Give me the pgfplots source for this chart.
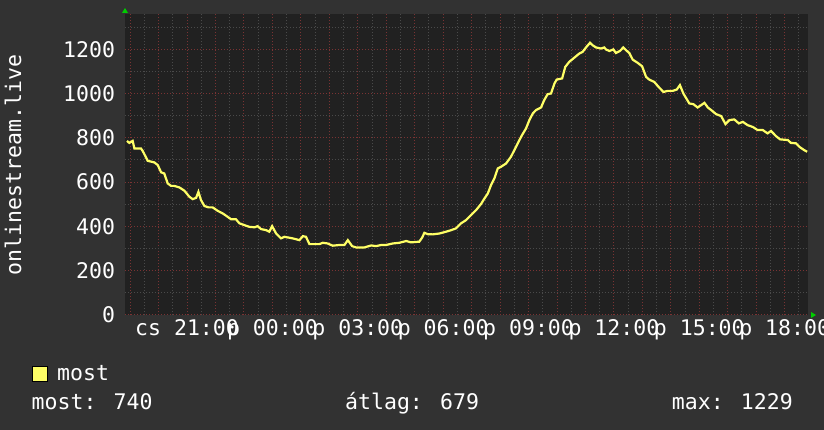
\documentclass[border=0pt]{standalone}
\usepackage{fontspec}
\setmainfont{DejaVu Sans Mono}
\usepackage{pgfplots}
\pgfplotsset{compat=1.18}
\definecolor{bg}{HTML}{323232}
\definecolor{canvas}{HTML}{212121}
\definecolor{mgrid}{HTML}{7A3333}
\definecolor{ngrid}{HTML}{4A4A4A}
\definecolor{curve}{HTML}{FFFF66}
\definecolor{arrowgreen}{HTML}{00CC00}
\newcommand{\rfont}{\fontsize{21.6}{26}\selectfont}
\pgfplotstableread{
h v
18.89 786
18.97 777
19.09 786
19.15 752
19.38 752
19.44 741
19.62 696
19.85 689
19.97 677
20.09 644
20.20 639
20.32 594
20.44 583
20.55 583
20.73 576
20.91 561
21.08 534
21.20 523
21.32 529
21.40 556
21.49 519
21.61 492
21.75 486
21.90 486
22.08 470
22.25 459
22.43 443
22.55 432
22.72 432
22.84 414
23.01 406
23.19 398
23.37 396
23.48 401
23.60 388
23.78 383
23.89 376
23.99 401
24.13 368
24.30 346
24.42 353
24.59 349
24.71 346
24.95 338
25.07 356
25.18 353
25.30 320
25.47 320
25.65 320
25.77 326
25.94 323
26.12 313
26.35 316
26.53 316
26.65 338
26.80 311
26.94 305
27.23 305
27.47 314
27.64 311
27.82 316
27.99 316
28.23 323
28.46 326
28.70 334
28.87 328
29.16 331
29.26 349
29.34 371
29.46 365
29.63 364
29.87 368
30.10 376
30.28 383
30.45 391
30.63 414
30.80 428
30.98 451
31.16 474
31.33 501
31.45 526
31.57 549
31.68 586
31.80 617
31.92 662
32.03 669
32.21 684
32.38 714
32.50 744
32.62 775
32.77 812
32.91 842
33.03 880
33.15 910
33.26 925
33.44 937
33.55 970
33.67 997
33.79 1000
33.91 1045
33.99 1063
34.18 1068
34.29 1120
34.43 1143
34.61 1162
34.78 1180
34.90 1188
35.02 1208
35.16 1229
35.25 1218
35.37 1208
35.55 1203
35.66 1208
35.72 1199
35.84 1192
35.98 1199
36.07 1183
36.21 1192
36.33 1208
36.43 1195
36.54 1183
36.66 1153
36.84 1138
36.99 1123
37.13 1075
37.24 1063
37.42 1052
37.59 1027
37.74 1007
37.89 1012
38.07 1012
38.21 1018
38.32 1038
38.44 1000
38.65 955
38.79 952
38.94 937
39.06 947
39.18 958
39.30 937
39.45 922
39.59 907
39.77 898
39.92 862
40.06 880
40.23 883
40.39 865
40.53 872
40.70 857
40.88 849
41.05 835
41.23 835
41.40 820
41.52 831
41.70 807
41.84 793
42.11 790
42.22 777
42.40 775
42.52 759
42.69 744
42.79 737
}\datatable
\begin{document}
\begin{tikzpicture}
\fill[bg] (0bp,0bp) rectangle (824bp,430bp);
\begin{axis}[
  at={(125bp,115bp)}, anchor=south west,
  scale only axis, width=683bp, height=301bp,
  xmin=18.82, xmax=42.82, ymin=0, ymax=1359,
  axis background/.style={fill=canvas},
  axis line style={draw=none},
  tick style={draw=none},
  xtick={19,20,...,42},
  xticklabels={,,cs 21:00,,,p 00:00,,,p 03:00,,,p 06:00,,,p 09:00,,,p 12:00,,,p 15:00,,,p 18:00},
  minor xtick={19.5,20.5,...,42.5},
  ytick={0,200,...,1200},
  minor ytick={100,300,...,1300},
  grid=both,
  major grid style={mgrid, dash pattern=on 1bp off 2bp, line width=1bp},
  minor grid style={ngrid, dash pattern=on 1bp off 2bp, line width=1bp},
  tick label style={font=\rfont, text=white, inner sep=0pt},
  /pgf/number format/assume math mode=true,
  /pgf/number format/1000 sep={},
  yticklabel style={xshift=-9.8bp},
  xticklabel style={yshift=-4.3bp},
  clip=true,
]
\addplot[curve, line width=2.2bp, mark=none, sharp plot] table[x=h, y=v] {\datatable};
\end{axis}
% axis arrow heads
\fill[arrowgreen] (122bp,417bp) -- (128bp,417bp) -- (125bp,422bp) -- cycle;
\fill[arrowgreen] (811bp,112bp) -- (811bp,118bp) -- (816bp,115bp) -- cycle;
% y label
\node[rotate=90, anchor=base, inner sep=0pt, text=white, font=\rfont] at (21bp,265bp) {onlinestream.live};
% legend
\filldraw[fill=curve, draw=black, line width=1bp] (32bp,48.5bp) rectangle (47bp,63.5bp);
\node[anchor=base west, inner sep=0pt, text=white, font=\rfont] at (57bp,49.5bp) {most};
\node[anchor=base west, inner sep=0pt, text=white, font=\rfont] at (31.5bp,20.5bp) {most: 740};
\node[anchor=base west, inner sep=0pt, text=white, font=\rfont] at (345bp,20.5bp) {átlag: 679};
\node[anchor=base east, inner sep=0pt, text=white, font=\rfont] at (793bp,20.5bp) {max: 1229};
\pgfresetboundingbox
\useasboundingbox (0bp,0bp) rectangle (824bp,430bp);
\end{tikzpicture}
\end{document}
